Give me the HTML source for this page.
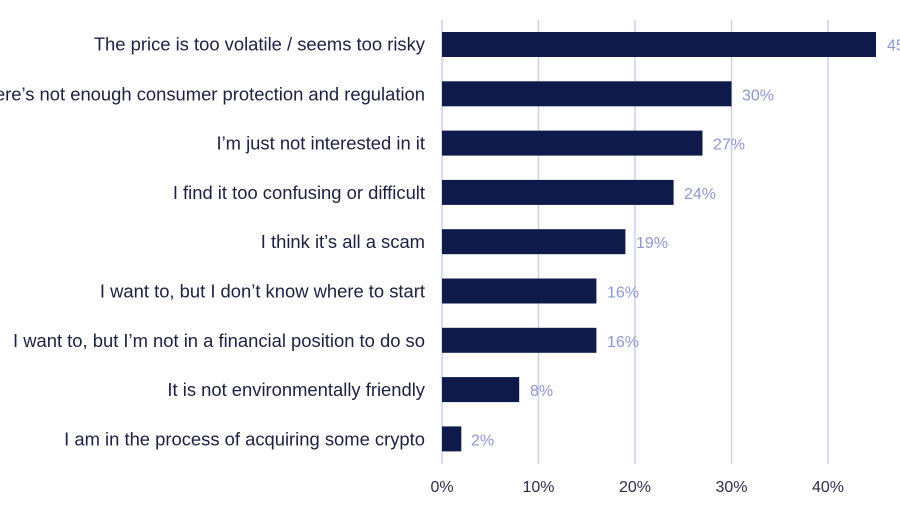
<!DOCTYPE html>
<html><head><style>
body{margin:0;width:900px;height:507px;background:#fff;overflow:hidden;font-family:"Liberation Sans",Arial,sans-serif;}
</style></head><body>
<svg width="900" height="507" xmlns="http://www.w3.org/2000/svg">
<g stroke="#c9d1ee" stroke-width="1.5">
<line x1="442" y1="20" x2="442" y2="464"/>
<line x1="538.5" y1="20" x2="538.5" y2="464"/>
<line x1="635" y1="20" x2="635" y2="464"/>
<line x1="731.5" y1="20" x2="731.5" y2="464"/>
<line x1="828" y1="20" x2="828" y2="464"/>
</g>
<g fill="#0e1a4a">
<rect x="442" y="32" width="434" height="25"/>
<rect x="442" y="81.3" width="289.5" height="25"/>
<rect x="442" y="130.6" width="260.5" height="25"/>
<rect x="442" y="179.9" width="231.6" height="25"/>
<rect x="442" y="229.2" width="183.4" height="25"/>
<rect x="442" y="278.5" width="154.4" height="25"/>
<rect x="442" y="327.8" width="154.4" height="25"/>
<rect x="442" y="377.1" width="77.2" height="25"/>
<rect x="442" y="426.4" width="19.3" height="25"/>
</g>
<g font-size="18.4" fill="#1c2140" text-anchor="end">
<text x="425" y="50.5">The price is too volatile / seems too risky</text>
<text x="425" y="100.3">There’s not enough consumer protection and regulation</text>
<text x="425" y="149.6">I’m just not interested in it</text>
<text x="425" y="198.9">I find it too confusing or difficult</text>
<text x="425" y="248.2">I think it’s all a scam</text>
<text x="425" y="297.5">I want to, but I don’t know where to start</text>
<text x="425" y="346.8">I want to, but I’m not in a financial position to do so</text>
<text x="425" y="396.1">It is not environmentally friendly</text>
<text x="425" y="445.4">I am in the process of acquiring some crypto</text>
</g>
<g font-size="16" fill="#8f98cf">
<text x="887" y="50.5">45%</text>
<text x="742" y="100.3">30%</text>
<text x="713" y="149.6">27%</text>
<text x="684" y="198.9">24%</text>
<text x="636" y="248.2">19%</text>
<text x="607" y="297.5">16%</text>
<text x="607" y="346.8">16%</text>
<text x="530" y="396.1">8%</text>
<text x="471" y="445.4">2%</text>
</g>
<g font-size="16" fill="#2a2e48" text-anchor="middle">
<text x="442" y="492">0%</text>
<text x="538.5" y="492">10%</text>
<text x="635" y="492">20%</text>
<text x="731.5" y="492">30%</text>
<text x="828" y="492">40%</text>
</g>
</svg>
</body></html>
